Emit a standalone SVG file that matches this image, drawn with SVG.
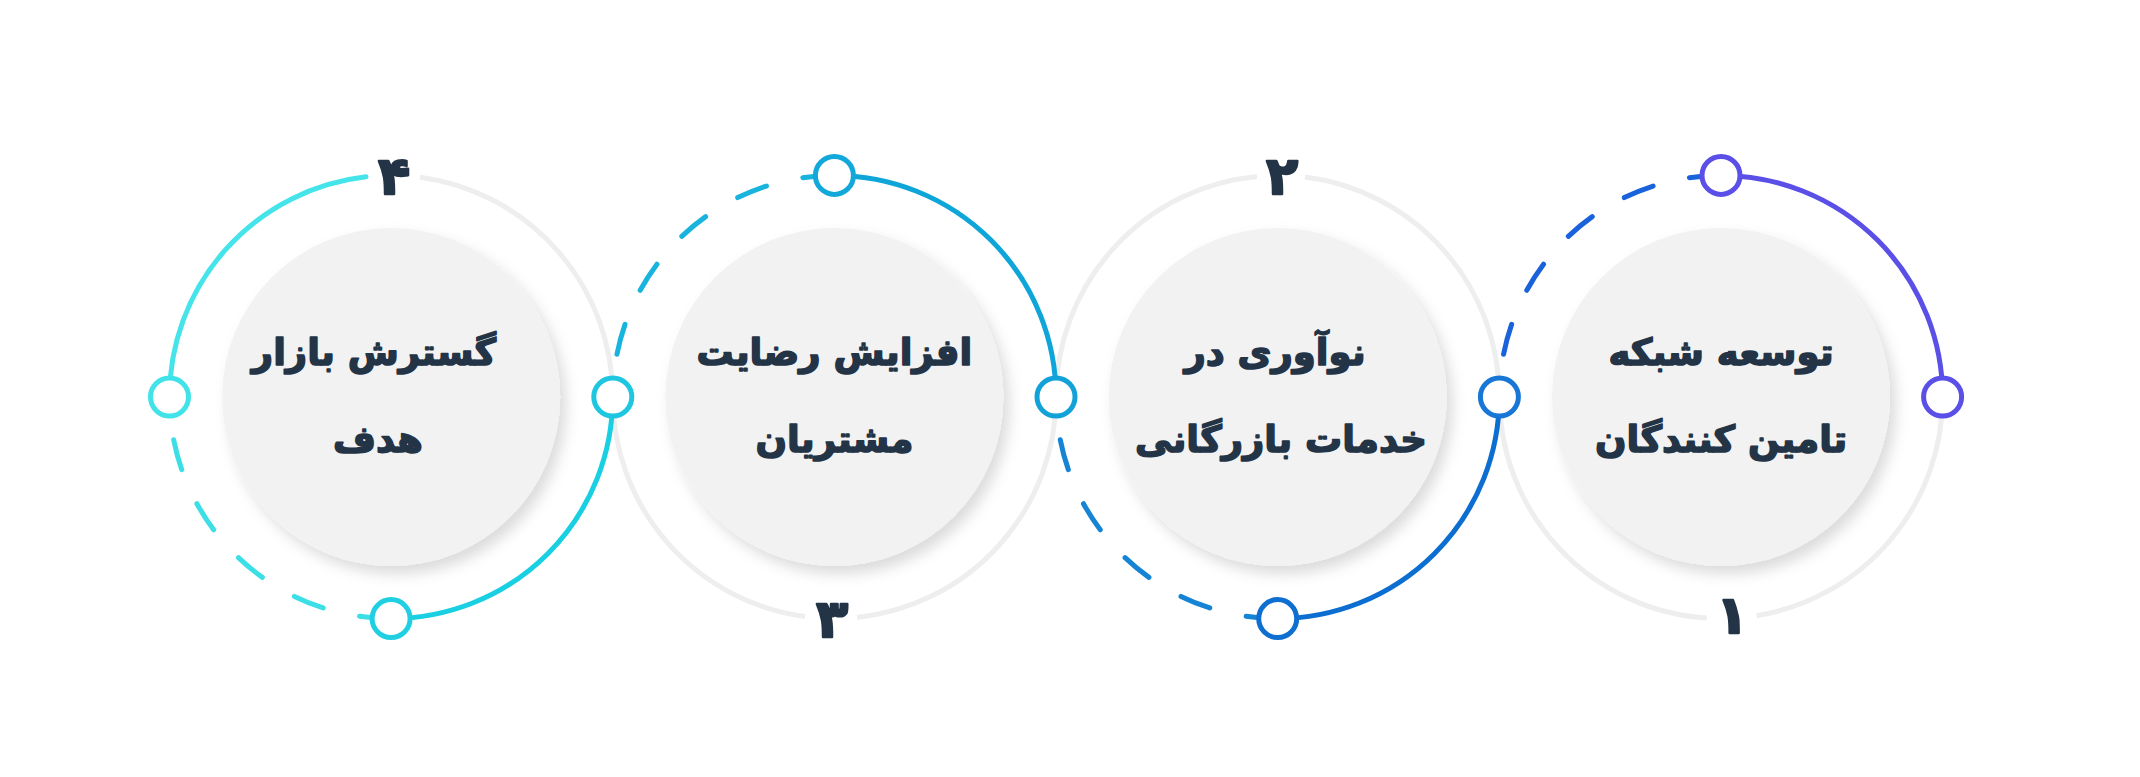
<svg xmlns="http://www.w3.org/2000/svg" width="2140" height="777" viewBox="0 0 2140 777">
<defs>
<filter id="sh" x="-20%" y="-20%" width="140%" height="140%">
<feDropShadow dx="6" dy="8" stdDeviation="7" flood-color="#000" flood-opacity="0.14"/>
</filter>
<style>
.gray{fill:none;stroke:#eeeeee;stroke-width:5}
.arc{fill:none;stroke-width:5;stroke-linecap:round}
.dash{fill:none;stroke-width:5;stroke-linecap:round;stroke-dasharray:31 37.3;stroke-dashoffset:25.3}
.node{fill:#ffffff;stroke-width:5}
.inner{fill:#f2f2f2;filter:url(#sh)}
.lbl{font-family:"DejaVu Sans","Noto Sans",sans-serif;font-weight:bold;font-size:37px;fill:#243447;stroke:#243447;stroke-width:1.6;stroke-linejoin:round;text-anchor:middle;direction:rtl}
.num{font-family:"DejaVu Sans","Noto Sans",sans-serif;font-weight:bold;font-size:52px;fill:#243447;stroke:#243447;stroke-width:2.5;stroke-linejoin:round;text-anchor:middle}
</style>
</defs>
<rect width="2140" height="777" fill="#ffffff"/>

<g id="connectors">
<path class="gray" d="M1942.6,397 A221.6,221.6 0 0 1 1756.7,615.7"/>
<path class="gray" d="M1706.7,618.1 A221.6,221.6 0 0 1 1499.4,397"/>
<path class="arc" stroke="#5a4fe6" d="M1721,175.4 A221.6,221.6 0 0 1 1942.6,397"/>
<path class="dash" stroke="#1a62dc" d="M1499.4,397 A221.6,221.6 0 0 1 1721,175.4"/>
<path class="gray" d="M1056.1,397 A221.6,221.6 0 0 1 1257,176.4"/>
<path class="gray" d="M1305,177.1 A221.6,221.6 0 0 1 1499.3,397"/>
<path class="arc" stroke="#0c6ed0" d="M1499.3,397 A221.6,221.6 0 0 1 1277.7,618.6"/>
<path class="dash" stroke="#1584d4" d="M1056.1,397 A221.6,221.6 0 0 0 1277.7,618.6"/>
<path class="gray" d="M1056,397 A221.6,221.6 0 0 1 857,617.4"/>
<path class="gray" d="M805,616.6 A221.6,221.6 0 0 1 612.8,397"/>
<path class="arc" stroke="#0ea5d8" d="M1056,397 A221.6,221.6 0 0 0 834.4,175.4"/>
<path class="dash" stroke="#18b4dd" d="M612.8,397 A221.6,221.6 0 0 1 834.4,175.4"/>
<path class="gray" d="M420,177.3 A221.6,221.6 0 0 1 612.7,397"/>
<path class="arc" stroke="#19cfe2" d="M612.7,397 A221.6,221.6 0 0 1 391.1,618.6"/>
<path class="dash" stroke="#3ddfe6" d="M169.5,397 A221.6,221.6 0 0 0 391.1,618.6"/>
<path class="arc" stroke="#45e4ea" d="M169.5,397 A221.6,221.6 0 0 1 366,176.8"/>
<circle class="node" cx="1942.6" cy="397" r="19" stroke="#5a4fe6"/>
<circle class="node" cx="1721" cy="175.4" r="19" stroke="#5a4fe6"/>
<circle class="node" cx="1499.4" cy="397" r="19" stroke="#1776d6"/>
<circle class="node" cx="1277.7" cy="618.6" r="19" stroke="#0f6fd0"/>
<circle class="node" cx="1056" cy="397" r="19" stroke="#13a2d8"/>
<circle class="node" cx="834.4" cy="175.4" r="19" stroke="#12a8da"/>
<circle class="node" cx="612.8" cy="397" r="19" stroke="#1ec6e0"/>
<circle class="node" cx="391.1" cy="618.6" r="19" stroke="#20d0e2"/>
<circle class="node" cx="169.5" cy="397" r="19" stroke="#3fe3e8"/>
</g>

<g id="step1">
<circle class="inner" cx="1721" cy="397" r="169"/>
<text class="lbl" x="1721" y="365">توسعه شبکه</text>
<text class="lbl" x="1721" y="452">تامین کنندگان</text>
<text class="num" x="1732" y="633">۱</text>
</g>

<g id="step2">
<circle class="inner" cx="1277.7" cy="397" r="169"/>
<text class="lbl" x="1275" y="365">نوآوری در</text>
<text class="lbl" x="1281" y="452">خدمات بازرگانی</text>
<text class="num" x="1282" y="194">۲</text>
</g>

<g id="step3">
<circle class="inner" cx="834.4" cy="397" r="169"/>
<text class="lbl" x="834.4" y="365">افزایش رضایت</text>
<text class="lbl" x="834.4" y="452">مشتریان</text>
<text class="num" x="832" y="637">۳</text>
</g>

<g id="step4">
<circle class="inner" cx="391.1" cy="397" r="169"/>
<text class="lbl" x="374" y="365">گسترش بازار</text>
<text class="lbl" x="378" y="452">هدف</text>
<text class="num" x="394" y="194">۴</text>
</g>
</svg>
